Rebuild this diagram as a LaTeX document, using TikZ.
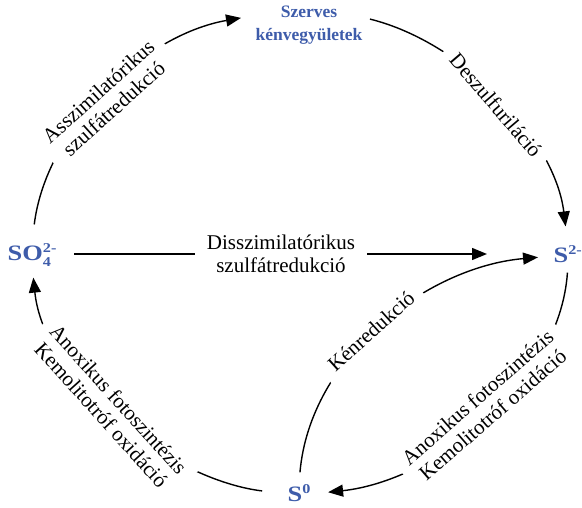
\documentclass[tikz,border=0pt]{standalone}
\usepackage{fontspec}
\setmainfont{Liberation Serif}
\newfontfamily\chemfont[FakeStretch=1.2]{Liberation Serif}
\usepackage{xcolor}
\usepackage{tikz}
\usetikzlibrary{arrows.meta}
\definecolor{kenblue}{RGB}{62,92,170}
\newcommand{\chsup}[1]{\raisebox{8pt}{\fontsize{13.5}{14}\selectfont #1}}
\newcommand{\chsub}[1]{\raisebox{-6pt}{\fontsize{13.5}{14}\selectfont #1}}
\tikzset{
  chem/.style={font=\chemfont\bfseries\fontsize{22}{24}\selectfont, text=kenblue,
    inner sep=0pt, text height=18pt, text depth=4pt, anchor=base west},
  szerv/.style={font=\bfseries\fontsize{17.5}{22.5}\selectfont, text=kenblue,
    inner sep=0pt, align=center},
  proc/.style={font=\fontsize{21}{23}\selectfont, align=center, fill=white,
    inner xsep=10pt, inner ysep=4pt},
}

\begin{document}
\begin{tikzpicture}[x=1pt,y=1pt,>={Triangle[length=15pt,width=12pt]},line width=1.4pt]
\useasboundingbox (0,0) rectangle (582,-508);
\node[chem] (so4) at (7,-261) {SO\rlap{\chsub{4}}\chsup{2-}};
\node[chem] (s2) at (553,-263) {S\chsup{2-}};
\node[chem] (s0) at (287,-501) {S\chsup{0}};
\node[szerv] (szerves) at (309,-25) {Szerves\\kénvegyületek};

\draw[->, shorten <=18pt, shorten >=14pt] (so4.north) to[out=83, in=190, looseness=0.92] (szerves.170);
\draw[->, shorten <=7pt, shorten >=18pt] (szerves.8) to[out=-14, in=97, looseness=0.88] (s2.north);
\draw[->, shorten <=17pt, shorten >=66pt] (so4.east) -- (so4.east -| s2.west);
\draw[->, shorten <=10pt, shorten >=15pt] (s0.north) to[out=85, in=185, looseness=0.95] (s2.west);
\draw[->, shorten <=5pt, shorten >=17pt] (s2.south) to[out=266, in=6, looseness=0.9] (s0.east);
\draw[->, shorten <=25pt, shorten >=12pt] (s0.west) to[out=173, in=-84, looseness=0.88] (so4.south);

\node[proc, rotate=42] (asszim) at (106,-100) {Asszimilatórikus\\szulfátredukció};
\node[proc, rotate=-49.5, inner ysep=9pt] (deszulf) at (496,-105) {Deszulfuriláció};
\node[proc, inner xsep=12pt] (disszim) at (281,-254) {Disszimilatórikus\\szulfátredukció};
\node[proc, rotate=42, inner ysep=7pt] (kenred) at (371,-331) {Kénredukció};
\node[proc, rotate=41] (oxjobb) at (485,-406) {Anoxikus fotoszintézis\\Kemolitotróf oxidáció};
\node[proc, rotate=-48] (oxbal) at (110,-407) {Anoxikus fotoszintézis\\Kemolitotróf oxidáció};
\end{tikzpicture}
\end{document}
